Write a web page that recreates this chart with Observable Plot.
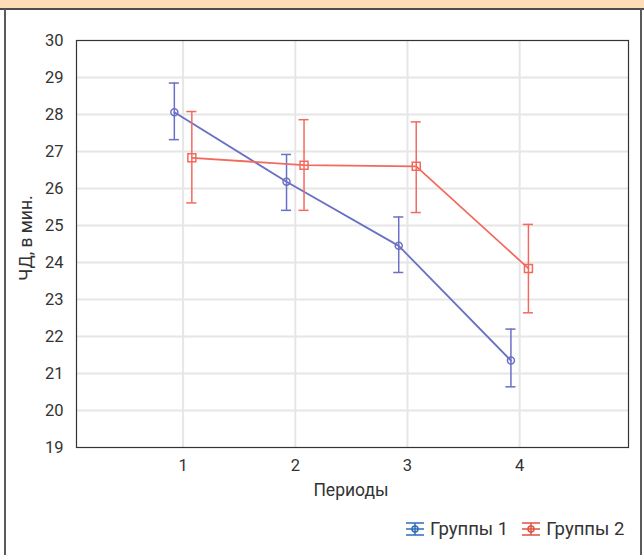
<!DOCTYPE html>
<html><head><meta charset="utf-8">
<script src="https://cdn.jsdelivr.net/npm/d3@7"></script>
<script src="https://cdn.jsdelivr.net/npm/@observablehq/plot@0.6"></script>
<style>
body{margin:0;background:#fff;}
#page{position:relative;width:644px;height:555px;overflow:hidden;background:#fff;font-family:Roboto,"Noto Sans",sans-serif;color:#333;}
#topbar{position:absolute;left:0;top:0;width:644px;height:8px;background:#fddcb6;border-bottom:2px solid #4d4d4d;}
#lborder{position:absolute;left:4px;top:9px;width:2px;height:546px;background:#5a5a5a;}
#rborder{position:absolute;left:640px;top:9px;width:2px;height:546px;background:#5a5a5a;}
#chart{position:absolute;left:0;top:0;}
#ytitle{position:absolute;left:26px;top:238px;transform:translate(-50%,-50%) rotate(-90deg);font-size:17.5px;white-space:nowrap;}
#xtitle{position:absolute;left:351px;top:490px;transform:translate(-50%,-50%);font-size:17.5px;}
#legend{position:absolute;left:405px;top:518px;display:flex;align-items:center;font-size:18.5px;}
.item{display:flex;align-items:center;margin-right:13px;}
.item svg{margin-right:5px;}
</style></head><body>
<div id="page">
  <div id="topbar"></div>
  <div id="lborder"></div>
  <div id="rborder"></div>
  <div id="chart"></div>
  <div id="ytitle">ЧД, в мин.</div>
  <div id="xtitle">Периоды</div>
  <div id="legend"></div>
</div>
<script>
const periods = [1, 2, 3, 4];
const group1Mean  = [28.06, 26.18, 24.45, 21.35];
const group1Upper = [28.85, 26.92, 25.23, 22.20];
const group1Lower = [27.32, 25.41, 23.73, 20.64];
const group2Mean  = [26.83, 26.63, 26.60, 23.84];
const group2Upper = [28.08, 27.86, 27.80, 25.03];
const group2Lower = [25.61, 25.41, 25.35, 22.64];
const yTicks = [19, 20, 21, 22, 23, 24, 25, 26, 27, 28, 29, 30];
const groupNames = ["Группы 1", "Группы 2"];

const lineColors = ["#6a70c6", "#f26a5e"];
const legendColors = ["#2f6db5", "#e0513f"];
const offsets = [-0.078, 0.078];
const capHalf = 0.045;

const rows = [];
[[group1Mean, group1Upper, group1Lower], [group2Mean, group2Upper, group2Lower]].forEach((g, gi) => {
  periods.forEach((p, i) => {
    rows.push({group: groupNames[gi], gi, x: p + offsets[gi], mean: g[0][i], hi: g[1][i], lo: g[2][i]});
  });
});
const g1 = rows.filter(d => d.gi === 0);
const g2 = rows.filter(d => d.gi === 1);

const font = 'Roboto,"Noto Sans",sans-serif';
const chart = Plot.plot({
  width: 644, height: 505,
  marginTop: 40, marginBottom: 58, marginLeft: 76, marginRight: 16,
  style: {fontSize: "16.5px", fontFamily: font, color: "#333", background: "transparent"},
  x: {domain: [0.05, 4.97], ticks: periods, tickSize: 0, tickPadding: 12, label: null, tickFormat: d => String(d)},
  y: {domain: [19, 30], ticks: yTicks, tickSize: 0, tickPadding: 13, label: null},
  marks: [
    Plot.ruleX(periods, {x: d => d, stroke: "#e6e6e6", strokeWidth: 2}),
    Plot.ruleY(yTicks.filter(t => t > 19 && t < 30), {y: d => d, stroke: "#e6e6e6", strokeWidth: 2}),
    Plot.frame({stroke: "#333", strokeWidth: 1.2}),
    ...[g1, g2].map((g, gi) => [
      Plot.ruleX(g, {x: "x", y1: "lo", y2: "hi", stroke: lineColors[gi], strokeWidth: 1.5}),
      Plot.ruleY(g, {y: "hi", x1: d => d.x - capHalf, x2: d => d.x + capHalf, stroke: lineColors[gi], strokeWidth: 1.5}),
      Plot.ruleY(g, {y: "lo", x1: d => d.x - capHalf, x2: d => d.x + capHalf, stroke: lineColors[gi], strokeWidth: 1.5}),
      Plot.line(g, {x: "x", y: "mean", stroke: lineColors[gi], strokeWidth: 1.8}),
      Plot.dot(g, {x: "x", y: "mean", stroke: lineColors[gi], strokeWidth: 1.5, fill: "none",
        symbol: gi === 0 ? "circle" : "square", r: gi === 0 ? 3.5 : 4.5})
    ]).flat()
  ]
});
document.getElementById("chart").appendChild(chart);

const legend = document.getElementById("legend");
groupNames.forEach((name, gi) => {
  const c = legendColors[gi];
  const item = document.createElement("div");
  item.className = "item";
  item.innerHTML = `<svg width="20" height="16" viewBox="0 0 20 16">
    <line x1="1" x2="19" y1="2" y2="2" stroke="${c}" stroke-width="1.5"/>
    <line x1="1" x2="19" y1="14" y2="14" stroke="${c}" stroke-width="1.5"/>
    <line x1="1" x2="19" y1="8" y2="8" stroke="${c}" stroke-width="1.5"/>
    <line x1="10" x2="10" y1="2" y2="14" stroke="${c}" stroke-width="1.5"/>
    <circle cx="10" cy="8" r="3" fill="none" stroke="${c}" stroke-width="1.5"/>
  </svg><span>${name}</span>`;
  legend.appendChild(item);
});
</script>
</body></html>
